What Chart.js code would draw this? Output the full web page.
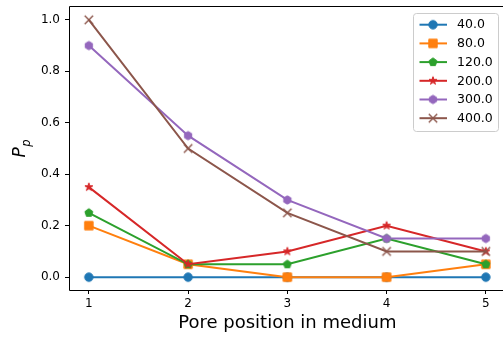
<!DOCTYPE html>
<html>
<head>
<meta charset="utf-8">
<script src="https://cdn.jsdelivr.net/npm/chart.js@4/dist/chart.umd.min.js"></script>
<style>
  html, body { margin: 0; padding: 0; background: #fff; overflow: hidden; }
  #wrap { width: 503px; height: 340px; }
</style>
</head>
<body>
<div id="wrap"><canvas id="c" width="503" height="340"></canvas></div>
<script>
// Pore positions along the medium
const positions = [1, 2, 3, 4, 5];
const yTicks = [0.0, 0.2, 0.4, 0.6, 0.8, 1.0];
const seriesLabels = ['40.0', '80.0', '120.0', '200.0', '300.0', '400.0'];

// P_p per pore position, one array per series
const p40  = [0.0, 0.0, 0.0, 0.0, 0.0];
const p80  = [0.2, 0.05, 0.0, 0.0, 0.05];
const p120 = [0.25, 0.05, 0.05, 0.15, 0.05];
const p200 = [0.35, 0.05, 0.1, 0.2, 0.1];
const p300 = [0.9, 0.55, 0.3, 0.15, 0.15];
const p400 = [1.0, 0.5, 0.25, 0.1, 0.1];

// axis limits
const X_MIN = 0.8, X_MAX = 5.173;
const Y_MIN = -0.05, Y_MAX = 1.05;

const seriesValues = [p40, p80, p120, p200, p300, p400];
const colors = ['#1f77b4', '#ff7f0e', '#2ca02c', '#d62728', '#9467bd', '#8c564b'];
const shapes = ['circle', 'square', 'pentagon', 'star', 'hexagon', 'x'];

const FONT = 'DejaVu Sans, sans-serif';
const MS = 8.4; // marker size in px

function polygonPath(ctx, cx, cy, n, r, rot) {
  ctx.beginPath();
  for (let i = 0; i < n; i++) {
    const a = rot + i * 2 * Math.PI / n;
    const px = cx + r * Math.sin(a), py = cy - r * Math.cos(a);
    if (i === 0) ctx.moveTo(px, py); else ctx.lineTo(px, py);
  }
  ctx.closePath();
}

function makeMarker(shape, color) {
  const S = 16, c = S / 2;
  const cv = document.createElement('canvas');
  cv.width = S; cv.height = S;
  const ctx = cv.getContext('2d');
  ctx.fillStyle = color; ctx.strokeStyle = color; ctx.lineWidth = 1;
  const r = MS / 2;
  if (shape === 'circle') {
    ctx.beginPath(); ctx.arc(c, c, r, 0, Math.PI * 2); ctx.fill(); ctx.stroke();
  } else if (shape === 'square') {
    ctx.beginPath(); ctx.rect(c - r, c - r, 2 * r, 2 * r); ctx.fill(); ctx.stroke();
  } else if (shape === 'pentagon') {
    polygonPath(ctx, c, c, 5, r, 0); ctx.fill(); ctx.stroke();
  } else if (shape === 'hexagon') {
    polygonPath(ctx, c, c, 6, r, 0); ctx.fill(); ctx.stroke();
  } else if (shape === 'star') {
    ctx.beginPath();
    for (let i = 0; i < 10; i++) {
      const rr = (i % 2 === 0) ? r : r * 0.381966;
      const a = i * Math.PI / 5;
      const px = c + rr * Math.sin(a), py = c - rr * Math.cos(a);
      if (i === 0) ctx.moveTo(px, py); else ctx.lineTo(px, py);
    }
    ctx.closePath(); ctx.fill(); ctx.stroke();
  } else if (shape === 'x') {
    ctx.lineWidth = 1.4;
    const h = r;
    ctx.beginPath();
    ctx.moveTo(c - h, c - h); ctx.lineTo(c + h, c + h);
    ctx.moveTo(c - h, c + h); ctx.lineTo(c + h, c - h);
    ctx.stroke();
  }
  return cv;
}

const datasets = seriesValues.map((vals, i) => ({
  label: seriesLabels[i],
  data: positions.map((x, j) => ({ x: x, y: vals[j] })),
  borderColor: colors[i],
  backgroundColor: colors[i],
  borderWidth: 2,
  pointStyle: makeMarker(shapes[i], colors[i]),
  pointRadius: 5,
  pointHoverRadius: 5,
  tension: 0,
  order: seriesValues.length - i
}));

const frameAndTitles = {
  id: 'frameAndTitles',
  afterDatasetsDraw(chart) {
    const { ctx, chartArea: a } = chart;
    const l = Math.round(a.left) + 0.5, t = Math.round(a.top) - 0.5;
    const b = Math.round(a.bottom) + 0.5;
    ctx.save();
    ctx.strokeStyle = '#000';
    ctx.lineWidth = 1;
    ctx.beginPath();
    ctx.moveTo(chart.width, t); ctx.lineTo(l, t); ctx.lineTo(l, b); ctx.lineTo(chart.width, b);
    ctx.stroke();
    ctx.restore();
  },
  afterDraw(chart) {
    const { ctx, chartArea: a } = chart;
    ctx.save();
    // x axis title, centred on the full axis span
    const xs = chart.scales.x;
    const centre = (xs.getPixelForValue(X_MIN) + xs.getPixelForValue(5.2)) / 2;
    ctx.fillStyle = '#000';
    ctx.font = '18px ' + FONT;
    ctx.textAlign = 'center';
    ctx.textBaseline = 'alphabetic';
    ctx.fillText('Pore position in medium', centre, 328);

    // y axis title: italic P with subscript p
    const cy = (a.top + a.bottom) / 2;
    ctx.translate(24.5, cy);
    ctx.rotate(-Math.PI / 2);
    ctx.font = 'italic 17px ' + FONT;
    const wP = ctx.measureText('P').width;
    ctx.font = 'italic 11.5px ' + FONT;
    const wp = ctx.measureText('p').width;
    const total = wP + 0.5 + wp;
    ctx.textAlign = 'left';
    ctx.font = 'italic 17px ' + FONT;
    ctx.fillText('P', -total / 2, 0);
    ctx.font = 'italic 11.5px ' + FONT;
    ctx.fillText('p', -total / 2 + wP + 0.5, 5);
    ctx.restore();

    // legend
    ctx.save();
    const bx = 413.5, by = 13.5, bw = 85, bh = 118;
    ctx.beginPath();
    ctx.roundRect(bx, by, bw, bh, 3);
    ctx.fillStyle = 'rgba(255,255,255,0.8)';
    ctx.fill();
    ctx.strokeStyle = '#cccccc';
    ctx.lineWidth = 1;
    ctx.stroke();
    chart.data.datasets.forEach((ds, i) => {
      const y = 24.7 + i * 18.7;
      ctx.strokeStyle = ds.borderColor;
      ctx.lineWidth = 2;
      ctx.beginPath();
      ctx.moveTo(419.5, y); ctx.lineTo(447, y);
      ctx.stroke();
      const img = ds.pointStyle;
      ctx.drawImage(img, 433 - img.width / 2, y - img.height / 2);
      ctx.fillStyle = '#000';
      ctx.font = '12.5px ' + FONT;
      ctx.textAlign = 'left';
      ctx.textBaseline = 'middle';
      ctx.fillText(ds.label, 457, y + 0.5);
    });
    ctx.restore();
  }
};

// keep the plot area exactly where the layout padding puts it
function noLabelPadding(s) {
  s.paddingTop = 0; s.paddingBottom = 0; s.paddingLeft = 0; s.paddingRight = 0;
}

new Chart(document.getElementById('c'), {
  type: 'line',
  data: { datasets: datasets },
  options: {
    responsive: false,
    animation: false,
    devicePixelRatio: 1,
    events: [],
    layout: { autoPadding: false, padding: { top: 7, right: 0, left: 0, bottom: 0 } },
    plugins: { legend: { display: false }, tooltip: { enabled: false } },
    scales: {
      x: {
        type: 'linear',
        min: X_MIN,
        max: X_MAX,
        afterBuildTicks: s => { s.ticks = positions.map(v => ({ value: v })); },
        afterFit: s => { s.height = 50; noLabelPadding(s); },
        ticks: {
          autoSkip: false,
          maxRotation: 0,
          color: '#000',
          padding: 3,
          font: { family: FONT, size: 12 },
          callback: v => String(v)
        },
        grid: { drawOnChartArea: false, drawTicks: true, tickLength: 4, color: '#000', tickWidth: 1 },
        border: { display: false }
      },
      y: {
        type: 'linear',
        min: Y_MIN,
        max: Y_MAX,
        afterBuildTicks: s => { s.ticks = yTicks.map(v => ({ value: v })); },
        afterFit: s => { s.width = 69; noLabelPadding(s); },
        ticks: {
          autoSkip: false,
          color: '#000',
          padding: 5,
          font: { family: FONT, size: 12 },
          callback: v => Number(v).toFixed(1)
        },
        grid: { drawOnChartArea: false, drawTicks: true, tickLength: 4, color: '#000', tickWidth: 1 },
        border: { display: false }
      }
    }
  },
  plugins: [frameAndTitles]
});
</script>
</body>
</html>
